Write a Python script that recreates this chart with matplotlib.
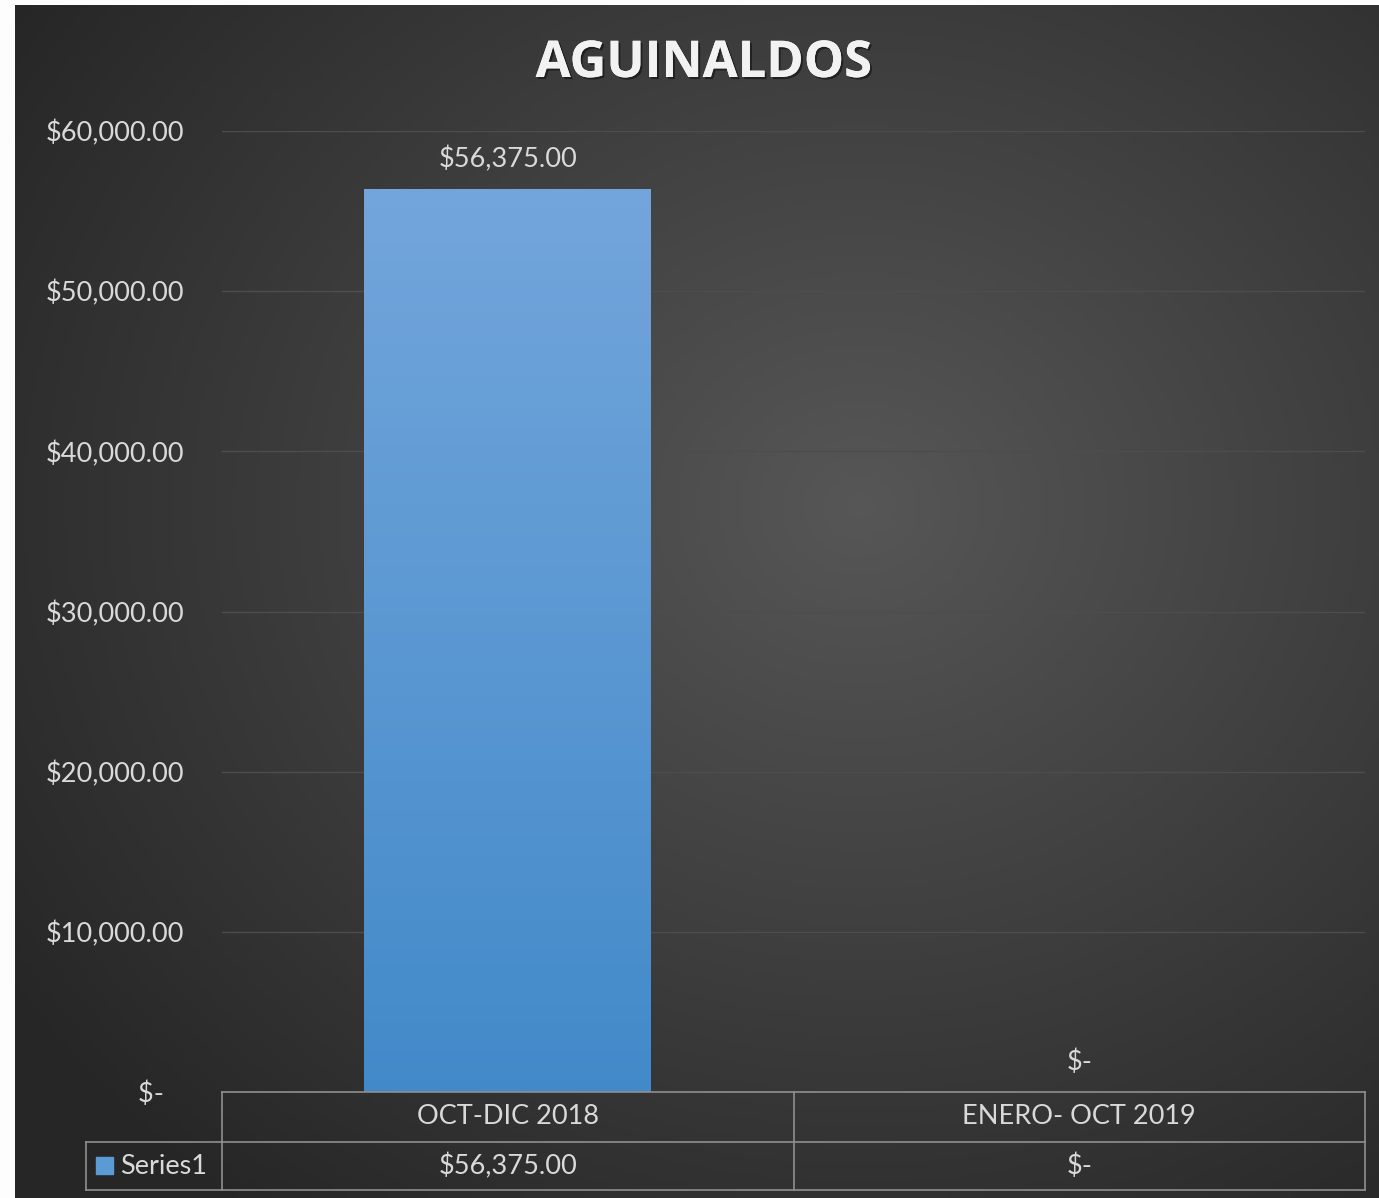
import numpy as np
import matplotlib
matplotlib.use("Agg")
import matplotlib.pyplot as plt
import matplotlib.patheffects as pe
from matplotlib.transforms import blended_transform_factory

# data
categories = ["OCT-DIC 2018", "ENERO- OCT 2019"]
values = [56375.00, 0.0]
series_name = "Series1"
title = "AGUINALDOS"
yticks = [0, 10000, 20000, 30000, 40000, 50000, 60000]


def money(v):
    if v == 0:
        return "$-"
    return "${:,.2f}".format(v)


txt_col = "#d9d9d9"
grid_col = "#4d4d4d"
line_col = "#8f8f8f"
fs = 19.5
plt.rcParams["font.family"] = ["Lato", "DejaVu Sans"]

W, H = 1379, 1198
fig = plt.figure(figsize=(W / 100, H / 100), dpi=100, facecolor="#fdfdfd")

# dark background with radial gradient
bg = fig.add_axes([15 / W, 0, 1 - 15 / W, 1 - 5 / H], zorder=-10)
yy, xx = np.mgrid[0:300, 0:300]
cx, cy = 0.62, 0.42
r = np.sqrt(((xx / 299) - cx) ** 2 + ((yy / 299) - cy) ** 2)
r = np.clip(r / 0.75, 0, 1)
shade = 0.34 - 0.19 * r
bg.imshow(np.dstack([shade] * 3), aspect="auto", extent=[0, 1, 1, 0])
bg.set_axis_off()

# overlay in pixel coords for the data table
ov = fig.add_axes([0, 0, 1, 1], zorder=5)
ov.set_xlim(0, W)
ov.set_ylim(H, 0)
ov.set_axis_off()
ov.patch.set_alpha(0)

ax = fig.add_axes([222 / W, 1 - 1092 / H, (1365 - 222) / W, (1092 - 131) / H])
ax.patch.set_alpha(0)
x = np.arange(len(categories))
bars = ax.bar(x, values, width=0.502, color="#5b9bd5", zorder=3)
ax.set_xlim(-0.5, len(categories) - 0.5)
ax.set_ylim(0, 60000)
ax.set_yticks(yticks)
# accounting format puts the zero dash a bit in from the right edge
ax.set_yticklabels([money(v) if v else "$-   " for v in yticks], fontsize=fs, color=txt_col)
ax.tick_params(axis="y", length=0, pad=27)
ax.set_xticks([])
for s in ax.spines.values():
    s.set_visible(False)
ax.grid(axis="y", color=grid_col, linewidth=1)
ax.set_axisbelow(True)

# gradient fill on the bars
grad = np.linspace(0, 1, 256).reshape(-1, 1)
top = np.array([0.45, 0.65, 0.86])
bot = np.array([0.26, 0.54, 0.79])
img = top + (bot - top) * grad[..., None] * np.ones((1, 1, 3))
for b in bars:
    if b.get_height() <= 0:
        continue
    im = ax.imshow(img, aspect="auto", zorder=4,
                   extent=[b.get_x(), b.get_x() + b.get_width(), 0, b.get_height()])
    im.set_clip_path(b)
ax.set_xlim(-0.5, len(categories) - 0.5)
ax.set_ylim(0, 60000)

for xi, v in zip(x, values):
    ax.annotate(money(v), (xi, v), xytext=(0, 12), textcoords="offset points",
                ha="center", va="bottom", fontsize=fs, color=txt_col, zorder=5)

fig.text(0.5105, 1 - 64 / H, title, ha="center", va="center", fontsize=36.5,
         fontweight="bold", color="#f2f2f2", family=["Open Sans", "DejaVu Sans"],
         path_effects=[pe.withSimplePatchShadow(offset=(1.5, -1.5), shadow_rgbFace="black", alpha=0.45),
                       pe.Normal()])

# data table under the axis
tr = blended_transform_factory(ax.transData, ov.transData)
y0, y1, y2 = 1092, 1142, 1190
xl, xr = -0.5, len(categories) - 0.5
kw = dict(color=line_col, linewidth=1.2, transform=tr, clip_on=False)
ov.plot([xl, xr], [y0, y0], **kw)
ov.plot([xl, xr], [y2, y2], **kw)
ov.plot([xl, xr], [y1, y1], **kw)
for b in np.arange(len(categories) + 1) - 0.5:
    ov.plot([b, b], [y0, y2], **kw)
ov.plot([86, 222], [y1, y1], color=line_col, linewidth=1.2)
ov.plot([86, 222], [y2, y2], color=line_col, linewidth=1.2)
ov.plot([86, 86], [y1, y2], color=line_col, linewidth=1.2)
for xi, c, v in zip(x, categories, values):
    ov.text(xi, (y0 + y1) / 2, c, transform=tr, ha="center", va="center",
            fontsize=fs, color=txt_col)
    ov.text(xi, (y1 + y2) / 2, money(v), transform=tr, ha="center", va="center",
            fontsize=fs, color=txt_col)
ov.add_patch(plt.Rectangle((96, 1157), 17, 17, color="#5b9bd5"))
ov.text(120, (y1 + y2) / 2, series_name, ha="left", va="center", fontsize=fs, color=txt_col)

fig.savefig("out.png", dpi=100, facecolor=fig.get_facecolor())
